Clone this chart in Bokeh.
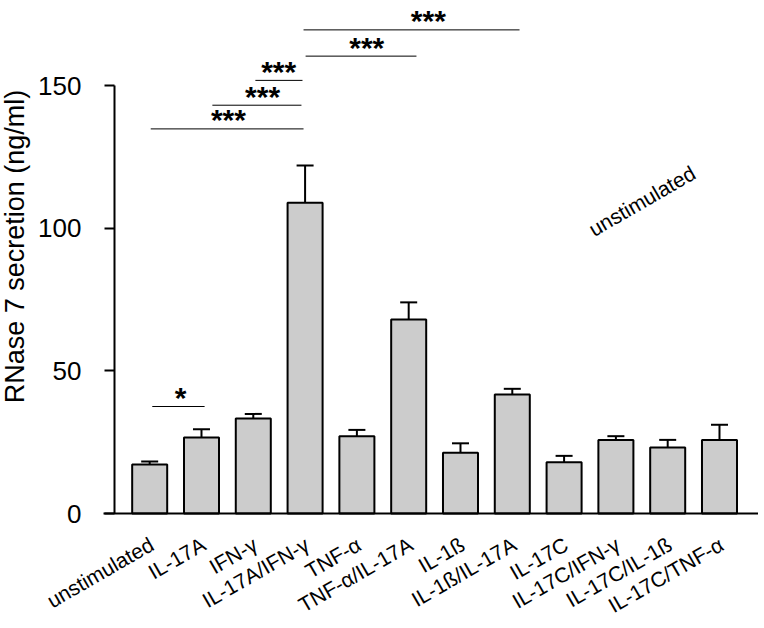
from bokeh.plotting import figure
from bokeh.models import Range1d, FixedTicker, Whisker, TeeHead, ColumnDataSource, LinearAxis
from bokeh.embed import file_html
from bokeh.resources import INLINE
from bokeh.core.properties import value
import math

# ---- data ----
categories = ["unstimulated", "IL-17A", "IFN-\u03b3", "IL-17A/IFN-\u03b3", "TNF-\u03b1",
              "TNF-\u03b1/IL-17A", "IL-1\u00df", "IL-1\u00df/IL-17A", "IL-17C",
              "IL-17C/IFN-\u03b3", "IL-17C/IL-1\u00df", "IL-17C/TNF-\u03b1"]
means = [17.2, 26.6, 33.3, 108.9, 27.1, 68.0, 21.3, 41.7, 18.0, 25.8, 23.1, 25.8]
sem = [1.0, 2.9, 1.6, 13.1, 2.2, 6.0, 3.3, 2.0, 2.2, 1.3, 2.7, 5.3]
y_ticks = [0, 50, 100, 150]

# significance brackets: from / to (category positions), level, label position, label
sig_x0 = [0.05, 0.02, 1.21, 2.04, 3.01, 2.97]
sig_x1 = [1.06, 2.97, 2.93, 2.95, 5.15, 7.14]
sig_y = [37.5, 134.8, 143.1, 151.8, 160.3, 169.5]
sig_lx = [0.595, 1.52, 2.18, 2.49, 4.19, 5.38]
sig_lab = ["*", "***", "***", "***", "***", "***"]

FONT = "Liberation Sans"
LABEL_DX = 0.04    # label anchor shift right of the bar centre (category units)
LABEL_DY = -10.2   # label anchor below the x axis (value units)
idx = list(range(len(categories)))

p = figure(width=758, height=624, output_backend="svg", toolbar_location=None,
           x_range=Range1d(-2.88, 11.753), y_range=Range1d(-36.1, 179.8),
           min_border_left=0, min_border_bottom=8, min_border_top=0, min_border_right=0)
p.outline_line_color = None
p.xgrid.visible = False
p.ygrid.visible = False

src = ColumnDataSource(dict(x=idx, top=means, upper=[m + s for m, s in zip(means, sem)]))

p.add_layout(Whisker(source=src, base="x", upper="upper", lower="top",
                     line_color="black", line_width=2,
                     upper_head=TeeHead(size=17, line_width=2, line_color="black"),
                     lower_head=None))
p.vbar(x="x", top="top", width=0.676, source=src, fill_color="#cccccc",
       line_color="black", line_width=2)

p.segment(x0=sig_x0, x1=sig_x1, y0=sig_y, y1=sig_y, line_color="black", line_width=1)
p.text(x=sig_lx, y=sig_y, text=sig_lab, text_align="center", text_baseline="middle",
       y_offset=-9, text_font=value(FONT), text_font_size="30px", text_font_style="bold",
       text_color="black")

# category names, rotated
lab_src = ColumnDataSource(dict(x=[i + LABEL_DX for i in idx],
                                y=[LABEL_DY] * len(idx), name=categories))
p.text(x="x", y="y", text="name", source=lab_src, angle=math.radians(30),
       text_align="right", text_baseline="middle",
       text_font=value(FONT), text_font_size="21px", text_color="#010101")

# diagnostic (same settings, placed in the empty upper right area)
p.text(x=[10.5], y=[120], text=["unstimulated"], angle=math.radians(30),
       text_align="right", text_baseline="middle",
       text_font=value(FONT), text_font_size="21px", text_color="black")

# y axis, drawn at a fixed x position inside the frame
ya = p.yaxis[0]
ya.fixed_location = -0.68
ya.ticker = FixedTicker(ticks=y_ticks)
ya.bounds = (0, 150)
ya.axis_line_width = 2
ya.major_tick_line_width = 2
ya.major_tick_out = 10
ya.major_tick_in = 0
ya.minor_tick_line_color = None
ya.major_label_text_font = FONT
ya.major_label_text_font_size = "26px"
ya.major_label_text_color = "black"
ya.major_label_standoff = 23

# axis carrying the y title
ya2 = LinearAxis(ticker=FixedTicker(ticks=[]), bounds=(7.4, 179.8), fixed_location=-2.32,
                 axis_line_color=None, major_tick_line_color=None, minor_tick_line_color=None,
                 major_label_text_font_size="0px", major_label_standoff=0,
                 axis_label="RNase 7 secretion (ng/ml)", axis_label_standoff=0,
                 axis_label_text_font=FONT, axis_label_text_font_size="27px",
                 axis_label_text_font_style="normal", axis_label_text_color="black")
p.add_layout(ya2, "left")

xa = p.xaxis[0]
xa.fixed_location = 0
xa.bounds = (-0.89, 11.753)
xa.ticker = FixedTicker(ticks=idx)
xa.axis_line_width = 2
xa.major_tick_line_color = None
xa.minor_tick_line_color = None
xa.major_label_text_font_size = "0px"
xa.major_label_text_color = None
xa.major_label_standoff = 0

open("out.html", "w").write(file_html(p, INLINE))
